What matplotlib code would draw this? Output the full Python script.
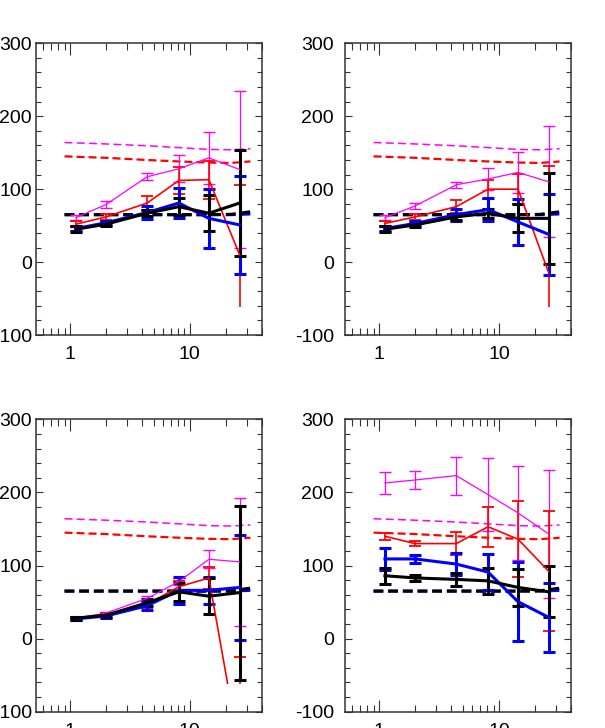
import matplotlib
matplotlib.use("Agg")
import matplotlib.pyplot as plt
from matplotlib.patches import Rectangle
from matplotlib.ticker import MultipleLocator, LogLocator, FixedLocator, NullFormatter

plt.rcParams["font.family"] = ["Liberation Sans Narrow", "Liberation Sans", "DejaVu Sans"]
plt.rcParams["axes.unicode_minus"] = False

# bin centres, shared by all panels
x = [1.12, 2.0, 4.4, 8.1, 14.4, 26.0]

# reference curves (same in every panel)
ref_x = [0.9, 2.0, 4.4, 8.1, 14.4, 22.0, 32.0]
ref_magenta = [164, 162, 159.5, 157, 154.5, 154, 155.5]
ref_red = [145, 143, 140, 138, 136.5, 136, 138]
ref_blue = [65, 65, 65, 65, 65, 65, 66]
ref_black = [65, 65, 65, 65, 65, 65.5, 69]

# top left
tl_magenta = [61, 79, 117, 128, 143, 127]
tl_magenta_err = [3.5, 4.5, 5, 18.5, 36, 107]
tl_red = [52, 62, 81, 112, 113, 10]
tl_red_err = [4, 4.5, 10, 18, 26, 96]
tl_blue = [46, 54, 68, 81, 60, 51]
tl_blue_err = [3, 3, 8.5, 20, 40, 67]
tl_black = [45, 52, 67, 76, 67, 81]
tl_black_err = [4, 3, 4, 11.5, 25, 73]

# top right
tr_magenta = [61, 77, 106, 114, 123, 110]
tr_magenta_err = [3.5, 4.5, 4.5, 14.5, 28, 76]
tr_red = [53, 62, 76, 100, 100, -15]
tr_red_err = [4, 4, 9, 13, 21, 147]
tr_blue = [46, 53, 65, 72, 55, 38]
tr_blue_err = [3, 3, 8, 15.5, 32, 56]
tr_black = [45, 51, 62, 67, 60, 60]
tr_black_err = [4, 3, 4, 6, 19, 62]

# bottom left
bl_magenta = [28, 35, 55, 78, 108.5, 105]
bl_magenta_err = [1, 2, 3, 5, 12.5, 88]
bl_red = [28, 33, 47, 71, 83, -154]
bl_red_err = [1, 2, 5, 8, 15, 129]
bl_blue = [27, 31, 45, 66, 66, 70]
bl_blue_err = [2, 2.5, 5.5, 18, 18, 72]
bl_black = [28, 32, 49, 64, 58, 63]
bl_black_err = [2, 2, 5, 12.5, 25, 119]

# bottom right
br_magenta = [213, 217, 223, 197, 172, 143]
br_magenta_err = [15, 12.5, 26, 50, 64, 87]
br_red = [140, 130, 130, 153, 136, 92]
br_red_err = [5, 3.5, 16, 27, 52, 82]
br_blue = [109, 109, 102, 91, 50.5, 29]
br_blue_err = [14.5, 5, 15, 25, 54, 47]
br_black = [86, 83, 81, 79, 70, 64]
br_black_err = [11, 4, 9, 18, 25.5, 35]

panels = [
    ([0.0595, 0.5398, 0.3736, 0.4007], 3,
     (tl_magenta, tl_magenta_err), (tl_red, tl_red_err),
     (tl_blue, tl_blue_err), (tl_black, tl_black_err)),
    ([0.5702, 0.5398, 0.3740, 0.4007], 8,
     (tr_magenta, tr_magenta_err), (tr_red, tr_red_err),
     (tr_blue, tr_blue_err), (tr_black, tr_black_err)),
    ([0.0595, 0.0224, 0.3736, 0.4016], 3,
     (bl_magenta, bl_magenta_err), (bl_red, bl_red_err),
     (bl_blue, bl_blue_err), (bl_black, bl_black_err)),
    ([0.5702, 0.0224, 0.3740, 0.4016], 8,
     (br_magenta, br_magenta_err), (br_red, br_red_err),
     (br_blue, br_blue_err), (br_black, br_black_err)),
]

XMIN, XMAX = 0.52, 40
YMIN, YMAX = -100, 300
CLIP_LOW = -62  # data below this is cut off in the original

fig = plt.figure(figsize=(6.05, 7.28), dpi=100)

for rect, ypad, mag, red, blue, black in panels:
    ax = fig.add_axes(rect)
    ax.set_xscale("log")
    clip = Rectangle((XMIN, CLIP_LOW), XMAX - XMIN, YMAX - CLIP_LOW,
                     transform=ax.transData)

    artists = []
    artists += ax.plot(ref_x, ref_magenta, color="#ff00ff", lw=1.1, dashes=(5.2, 2.8))
    artists += ax.plot(ref_x, ref_red, color="#ff0000", lw=1.6, dashes=(3.6, 1.8))
    artists += ax.plot(ref_x, ref_blue, color="#0000ff", lw=2.2, dashes=(3.2, 1.6))
    artists += ax.plot(ref_x, ref_black, color="black", lw=2.2, dashes=(3.2, 1.6))

    styles = [
        (mag, "#ff00ff", 0.9, 1.0),
        (red, "#ff0000", 1.2, 1.3),
        (blue, "#0000ff", 2.2, 2.2),
        (black, "black", 2.2, 2.2),
    ]
    for (vals, errs), color, lw, ct in styles:
        cont = ax.errorbar(x, vals, yerr=errs, color=color, lw=lw,
                           elinewidth=lw, capsize=4, capthick=ct)
        artists += cont.get_children()

    for a in artists:
        a.set_clip_path(clip)

    ax.set_xlim(XMIN, XMAX)
    ax.set_ylim(YMIN, YMAX)
    ax.xaxis.set_major_locator(FixedLocator([1, 10]))
    ax.set_xticklabels(["1", "10"])
    ax.xaxis.set_minor_locator(LogLocator(base=10, subs=range(2, 10)))
    ax.xaxis.set_minor_formatter(NullFormatter())
    ax.yaxis.set_major_locator(MultipleLocator(100))
    ax.yaxis.set_minor_locator(MultipleLocator(20))

    ax.tick_params(which="both", direction="in", top=True, right=True,
                   width=0.8, labelsize=14, color="#333333")
    ax.tick_params(axis="x", which="major", length=8.5, pad=8)
    ax.tick_params(axis="x", which="minor", length=5)
    ax.tick_params(axis="y", which="major", length=5, pad=ypad)
    ax.tick_params(axis="y", which="minor", length=3.6)
    for s in ax.spines.values():
        s.set_linewidth(1.1)
        s.set_color("#333333")

fig.savefig("out.png", dpi=100)
